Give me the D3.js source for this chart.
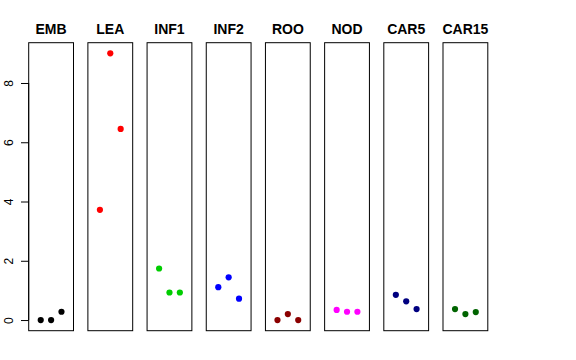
<!DOCTYPE html>
<html>
<head>
<meta charset="utf-8">
<script src="https://cdn.jsdelivr.net/npm/d3@7"></script>
<style>
  body { margin: 0; background: #fff; }
  text { font-family: "Liberation Sans", Arial, sans-serif; }
</style>
</head>
<body>
<div id="chart"></div>
<script>
// groups and their three values each
const groups = ["EMB", "LEA", "INF1", "INF2", "ROO", "NOD", "CAR5", "CAR15"];
const colors = ["#000000", "#FF0000", "#00CD00", "#0000FF", "#8B0000", "#FF00FF", "#000080", "#006400"];
const values = [
  [0, 0, 0.28],
  [3.72, 9.0, 6.45],
  [1.74, 0.93, 0.93],
  [1.11, 1.44, 0.72],
  [0, 0.2, 0],
  [0.34, 0.28, 0.28],
  [0.85, 0.63, 0.37],
  [0.37, 0.2, 0.27]
];
const yTicks = [0, 2, 4, 6, 8];

const w = 576, h = 360;

const svg = d3.select("#chart")
  .append("svg")
  .attr("width", w)
  .attr("height", h);

// panels
const xBand = d3.scaleBand()
  .domain(groups)
  .range([28.7, 487.8])
  .paddingInner(0.243)
  .paddingOuter(0);

const yScale = d3.scaleLinear()
  .domain([-0.36, 9.36])
  .range([330.7, 42.7]);

groups.forEach((g, i) => {
  const x0 = xBand(g);
  const bw = xBand.bandwidth();
  const xIn = d3.scaleLinear().domain([-0.16, 4.16]).range([x0, x0 + bw]);

  const panel = svg.append("g");

  panel.append("rect")
    .attr("x", x0)
    .attr("y", yScale.range()[1])
    .attr("width", bw)
    .attr("height", yScale.range()[0] - yScale.range()[1])
    .attr("fill", "none")
    .attr("stroke", "#000")
    .attr("stroke-width", 1);

  panel.selectAll("circle")
    .data(values[i])
    .enter()
    .append("circle")
    .attr("cx", (d, j) => xIn(j + 1))
    .attr("cy", d => yScale(d))
    .attr("r", 3.1)
    .attr("fill", colors[i]);

  // titulo
  panel.append("text")
    .attr("x", x0 + bw / 2)
    .attr("y", 34.3)
    .attr("text-anchor", "middle")
    .style("font-size", "14px")
    .style("font-weight", "bold")
    .text(g);
});

// eje y
const yAxis = d3.axisLeft(yScale)
  .tickValues(yTicks)
  .tickSize(7.7)
  .tickPadding(0)
  .tickFormat(d3.format("d"));

const ax = svg.append("g")
  .attr("transform", `translate(${xBand(groups[0])},0)`)
  .call(yAxis);

ax.select(".domain")
  .attr("d", `M0,${yScale(0)}V${yScale(8)}`)
  .attr("stroke", "#000");
ax.selectAll(".tick line").attr("stroke", "#000");
ax.selectAll(".tick text")
  .attr("x", 0)
  .attr("dy", 0)
  .attr("transform", "translate(-16,0) rotate(-90)")
  .attr("text-anchor", "middle")
  .style("font-size", "12px")
  .style("font-family", "Liberation Sans, Arial, sans-serif")
  .attr("fill", "#000");
</script>
</body>
</html>
